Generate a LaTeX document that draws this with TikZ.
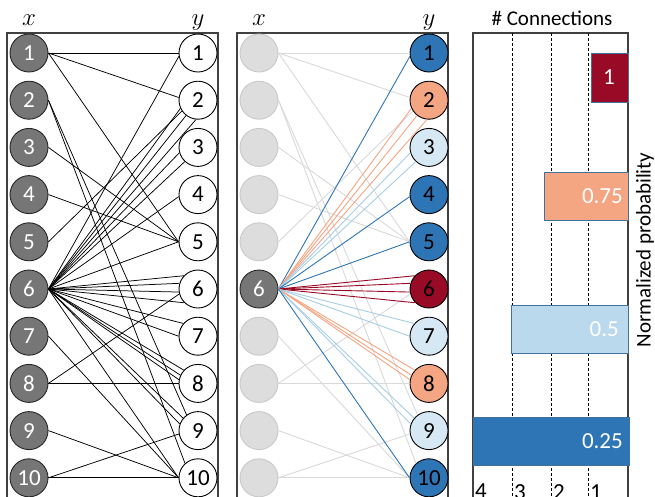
\documentclass[tikz,border=0pt]{standalone}
\usepackage{fontspec}
\setmainfont{Carlito}
\definecolor{cgray}{HTML}{767676}
\definecolor{clight}{HTML}{DDDDDD}
\definecolor{clightb}{HTML}{C9C9C9}
\definecolor{cline}{HTML}{D9D9D9}
\definecolor{cblue}{HTML}{2E75B6}
\definecolor{corange}{HTML}{F4A582}
\definecolor{clb}{HTML}{D6E8F4}
\definecolor{clbline}{HTML}{A6CEE6}
\definecolor{clbbar}{HTML}{BBD9EC}
\definecolor{cred}{HTML}{980A26}
\definecolor{cbarb}{HTML}{41719C}
\definecolor{cbox}{HTML}{404040}
\begin{document}
\begin{tikzpicture}[x=1pt,y=-1pt,
  digit/.style={font=\fontsize{23}{24}\selectfont},
  xnode/.style={circle,minimum size=38pt,inner sep=0pt,fill=cgray,draw=black!85,line width=0.9pt,text=white,digit},
  ynode/.style={circle,minimum size=38pt,inner sep=0pt,fill=white,draw=black,line width=0.9pt,text=black,digit},
  lnode/.style={circle,minimum size=38pt,inner sep=0pt,fill=clight,draw=clightb,line width=0.9pt},
  panel/.style={draw=cbox,line width=1.3pt},
  blk/.style={draw=black,line width=0.75pt},
  gry/.style={draw=cline,line width=0.9pt},
  col/.style={line width=0.9pt},
  bar/.style={draw=cbarb,line width=0.9pt},
  barlbl/.style={text=white,digit,inner sep=0pt},
  vlabel/.style={font=\fontsize{26}{28}\selectfont,inner sep=0pt,anchor=base},
  guide/.style={draw=black,line width=0.7pt,dash pattern=on 3pt off 2pt}
]
\useasboundingbox (0,0) rectangle (655,496);
\clip (0,0) rectangle (655,496);
% panels
\draw[panel] (7,33) rectangle (218,520);
\draw[panel] (237,33) rectangle (448,520);
% labels
\node[vlabel] (lx1) at (29,25) {$x$};
\node[vlabel] (ly1) at (198,25) {$y$};
\node[vlabel] (lx2) at (259,25) {$x$};
\node[vlabel] (ly2) at (429,25) {$y$};
% nodes
\foreach \i/\fc in {1/cblue,2/corange,3/clb,4/cblue,5/cblue,6/cred,7/clb,8/corange,9/clb,10/cblue} {
  \pgfmathsetmacro\yy{53+(\i-1)*47.2}
  \node[xnode] (a\i) at (29,\yy) {\i};
  \node[ynode] (b\i) at (198,\yy) {\i};
  \node[ynode,fill=\fc] (d\i) at (429,\yy) {\i};
}
\foreach \i in {1,2,3,4,5,7,8,9,10} {
  \pgfmathsetmacro\yy{53+(\i-1)*47.2}
  \node[lnode] (c\i) at (259,\yy) {};
}
\node[xnode] (c6) at (259,289) {6};
% other edges
\foreach \s/\t/\ang in {1/1/180, 1/2/172, 1/5/180, 2/9/126, 2/10/132, 3/5/180, 4/5/180, 5/2/214, 7/10/180, 8/6/195, 8/8/180, 9/10/180, 10/9/190, 10/10/180} {
  \draw[blk] (a\s.east) -- (b\t.\ang);
  \draw[gry] (c\s.east) -- (d\t.\ang);
}
% edges of node 6
\foreach \t/\ang/\cc in {1/190/cblue, 2/205/corange, 2/232/corange, 2/264/corange, 3/196/clbline, 3/227/clbline, 4/186/cblue, 5/180/cblue, 6/137/cred, 6/163/cred, 6/189/cred, 6/225/cred, 7/139/clbline, 7/180/clbline, 8/137/corange, 8/155/corange, 8/169/corange, 9/140/clbline, 9/160/clbline, 10/180/cblue} {
  \draw[blk] (a6.east) -- (b\t.\ang);
  \draw[col,draw=\cc] (c6.east) -- (d\t.\ang);
}
% bar chart
\draw[panel] (473,33) rectangle (628,520);
\draw[guide] (512,33) -- (512,496);
\draw[guide] (551,33) -- (551,496);
\draw[guide] (588,33) -- (588,496);
\draw[bar,fill=cred] (591,53) rectangle (628,102);
\node[barlbl] (t1) at (609,77.5) {1};
\draw[bar,fill=corange] (544,172) rectangle (628,220);
\node[barlbl,anchor=east] (t2) at (623,196) {0.75};
\draw[bar,fill=clbbar] (511,305) rectangle (628,353);
\node[barlbl,anchor=east] (t3) at (619,329) {0.5};
\draw[bar,fill=cblue] (473,417) rectangle (629,465);
\node[barlbl,anchor=east] (t4) at (623,441) {0.25};
\node[digit,inner sep=0pt,anchor=north west] (n4) at (475,484) {4};
\node[digit,inner sep=0pt,anchor=north west] (n3) at (514,484) {3};
\node[digit,inner sep=0pt,anchor=north west] (n2) at (553,484) {2};
\node[digit,inner sep=0pt,anchor=north west] (n1) at (590,484) {1};
\node[font=\fontsize{21}{22}\selectfont,inner sep=0pt] (hc) at (552,18) {\# Connections};
\node[font=\fontsize{21}{22}\selectfont,inner sep=0pt,rotate=90] (np) at (645,250) {Normalized probability};
\end{tikzpicture}
\end{document}
